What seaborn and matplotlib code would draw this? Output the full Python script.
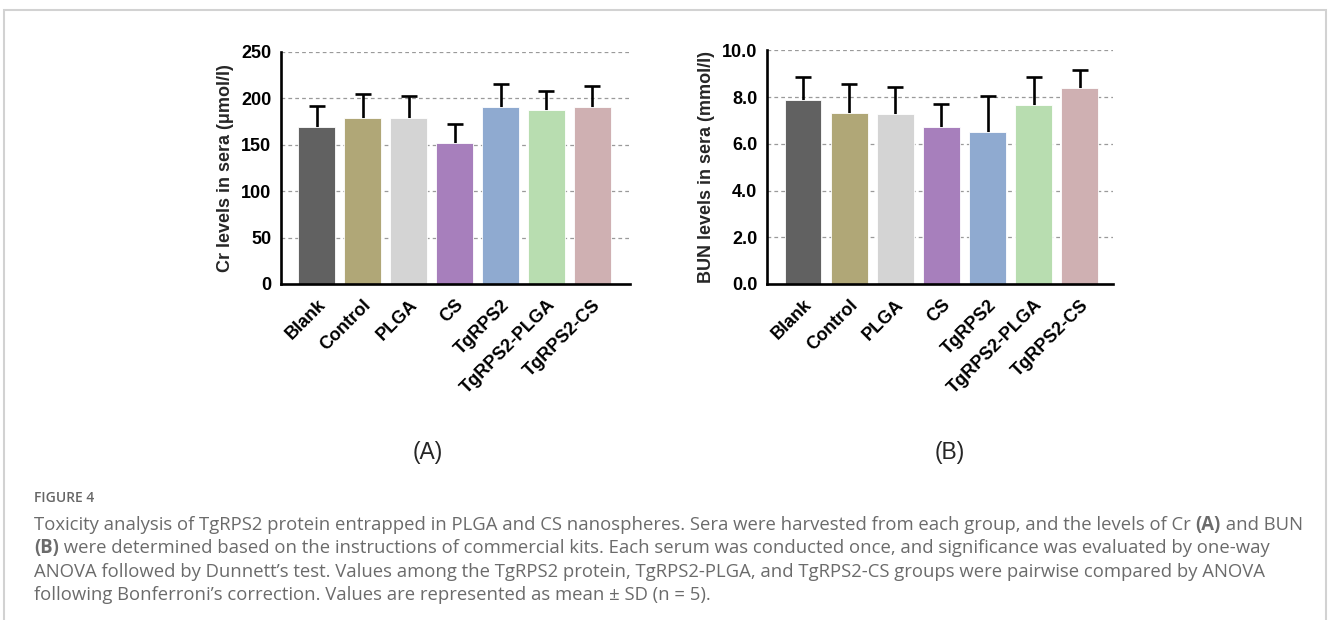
import matplotlib
matplotlib.use("Agg")
import matplotlib.pyplot as plt
import matplotlib.patches as mpatches
import seaborn as sns
import pandas as pd

groups = ["Blank", "Control", "PLGA", "CS", "TgRPS2", "TgRPS2-PLGA", "TgRPS2-CS"]
colors = ["#616161", "#b0a777", "#d4d4d4", "#a77fbc", "#8faad0", "#b8ddb0", "#cfb0b2"]

cr_mean = [169.5, 178.5, 179.0, 152.0, 190.5, 187.5, 191.0]
cr_sd = [22.5, 26.0, 24.0, 20.5, 25.0, 20.5, 22.5]

bun_mean = [7.86, 7.31, 7.27, 6.70, 6.52, 7.67, 8.40]
bun_sd = [1.00, 1.25, 1.16, 0.99, 1.54, 1.19, 0.77]

sns.set_style("white")
plt.rcParams["font.family"] = ["Liberation Sans", "DejaVu Sans"]

fig = plt.figure(figsize=(13.28, 6.2), dpi=100)
W, H = 1328, 620


def panel(rect, means, sds, ymax, step, fmt, ylabel, xlim_right):
    ax = fig.add_axes(rect)
    df = pd.DataFrame({"group": groups, "value": means})
    sns.barplot(data=df, x="group", y="value", hue="group", palette=colors,
                legend=False, errorbar=None, width=0.8, saturation=1,
                edgecolor="white", linewidth=0.6, ax=ax, zorder=2)
    eb = ax.errorbar(range(len(groups)), means, yerr=[[0] * len(sds), sds],
                     fmt="none", ecolor="black", elinewidth=1.9, capsize=5.5,
                     capthick=1.9, zorder=1)
    # only the upper whisker is shown
    eb[1][0].set_visible(False)
    ticks = [i * step for i in range(int(round(ymax / step)) + 1)]
    ax.set_ylim(0, ymax)
    ax.set_xlim(-0.78, xlim_right)
    ax.set_yticks(ticks)
    ax.set_yticklabels([fmt.format(t) for t in ticks], fontweight="bold", fontsize=13)
    for t in ticks[1:]:
        ax.axhline(t, color="#9a9a9a", lw=0.9, ls=(0, (3, 2.5)), zorder=0)
    ax.set_xticks(range(len(groups)))
    ax.set_xticklabels(groups, rotation=45, ha="right", rotation_mode="anchor",
                       fontweight="bold", fontsize=13)
    ax.set_xlabel("")
    ax.set_ylabel(ylabel, fontweight="bold", fontsize=13, labelpad=5)
    for s in ["top", "right"]:
        ax.spines[s].set_visible(False)
    for s in ["left", "bottom"]:
        ax.spines[s].set_linewidth(1.9)
        ax.spines[s].set_color("black")
    ax.tick_params(axis="both", direction="out", length=5, width=1.9,
                   color="black", labelcolor="black", pad=2)
    ax.tick_params(axis="x", pad=4)
    return ax


ax1 = panel([281 / W, 1 - 284 / H, 349 / W, 232 / H], cr_mean, cr_sd,
            250, 50, "{:.0f}", "Cr levels in sera (\u03bcmol/l)", 6.82)
ax2 = panel([767 / W, 1 - 284 / H, 346 / W, 233.7 / H], bun_mean, bun_sd,
            10.0, 2.0, "{:.1f}", "BUN levels in sera (mmol/l)", 6.72)

fig.text(428 / W, 1 - 452 / H, "(A)", ha="center", va="center", fontsize=16.5)
fig.text(950 / W, 1 - 452 / H, "(B)", ha="center", va="center", fontsize=16.5)

# outer frame
fig.patches.append(mpatches.Rectangle((4 / W, -0.05), 1322 / W, 1 - 10 / H + 0.05,
                                      transform=fig.transFigure, fill=False,
                                      edgecolor="#d2d2d2", lw=1.5))

cap_font = ["Open Sans", "DejaVu Sans"]
cap_col = "#6b6b6b"
fig.text(34 / W, 1 - 498 / H, "FIGURE 4", ha="left", va="center", fontsize=10,
         fontweight="semibold", color="#666666", family=cap_font)

lines = [
    [("Toxicity analysis of TgRPS2 protein entrapped in PLGA and CS nanospheres. "
      "Sera were harvested from each group, and the levels of Cr ", "normal"),
     ("(A)", "bold"), (" and BUN", "normal")],
    [("(B)", "bold"), (" were determined based on the instructions of commercial kits. "
                       "Each serum was conducted once, and significance was evaluated by one-way", "normal")],
    [("ANOVA followed by Dunnett\u2019s test. Values among the TgRPS2 protein, TgRPS2-PLGA, "
      "and TgRPS2-CS groups were pairwise compared by ANOVA", "normal")],
    [("following Bonferroni\u2019s correction. Values are represented as mean \u00b1 SD (n = 5).", "normal")],
]
line_y = [525, 548, 572, 595]

fig.canvas.draw()
renderer = fig.canvas.get_renderer()
for parts, yy in zip(lines, line_y):
    x = 34
    for txt, wt in parts:
        t = fig.text(x / W, 1 - yy / H, txt, ha="left", va="center", fontsize=13.35,
                     fontweight=wt, color=cap_col, family=cap_font)
        bb = t.get_window_extent(renderer=renderer)
        x += bb.width

fig.savefig("out.png", dpi=100)
